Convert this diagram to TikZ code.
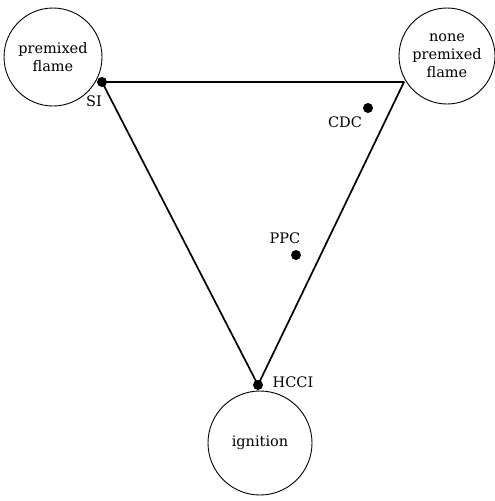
\documentclass[tikz,border=0pt]{standalone}
\usepackage{fontspec}
\setmainfont{DejaVu Serif}
\begin{document}
\begin{tikzpicture}[x=1pt,y=-1pt,
  regime/.style={circle,draw,line width=0.9pt,minimum size=#1,inner sep=0pt,align=center,
    font=\fontsize{14.5}{18}\selectfont},
  corner/.style={circle,fill=black,inner sep=0pt,minimum size=10pt},
  tag/.style={font=\fontsize{14.5}{17}\selectfont,inner sep=1pt},
  edge/.style={line width=1.7pt}]
\useasboundingbox (0,0) rectangle (495,501);
% combustion regimes
\node[regime=98pt] (pre) at (53,57) {premixed\\flame};
\node[regime=96pt] (npre) at (447,56) {none\\premixed\\flame};
\node[regime=104pt] (ign) at (260,443) {ignition};
% triangle corners and operating points
\node[corner] (si) at (102,82) {};
\coordinate (tr) at (404,82);
\node[corner] (hcci) at (258,385) {};
\node[corner] (cdc) at (368,108) {};
\node[corner] (ppc) at (296,255) {};
\draw[edge,line join=round] (si.center) -- (tr) -- (hcci.center) -- cycle;
% labels
\node[tag] at (94,101) {SI};
\node[tag] at (345,122) {CDC};
\node[tag] at (285,238) {PPC};
\node[tag] at (293,382) {HCCI};
\end{tikzpicture}
\end{document}
